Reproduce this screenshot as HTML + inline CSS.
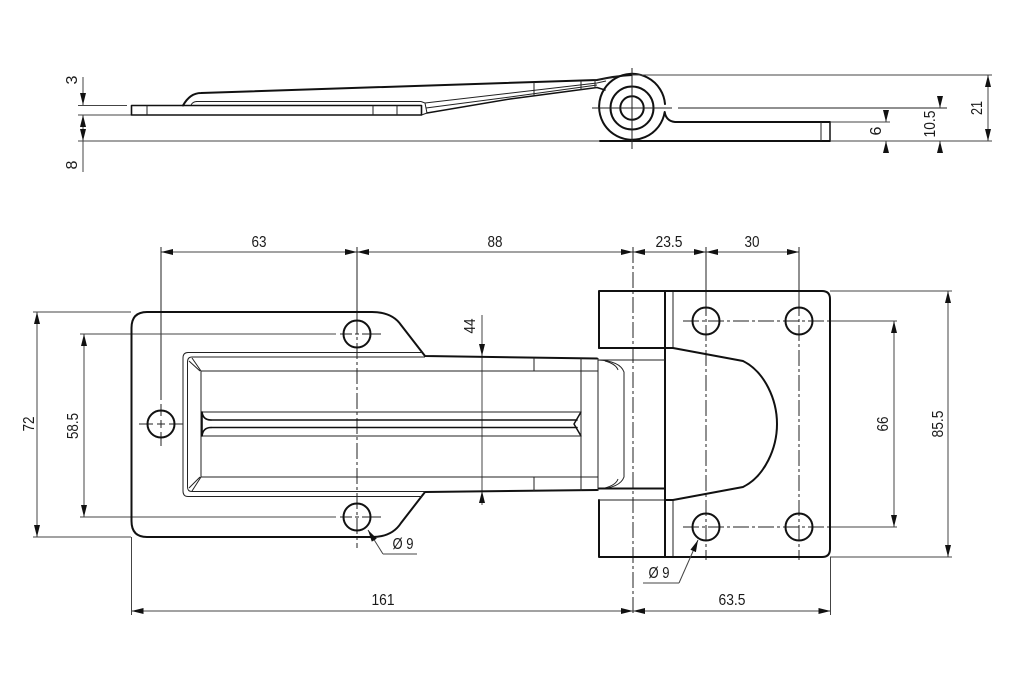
<!DOCTYPE html>
<html><head><meta charset="utf-8"><style>
html,body{margin:0;padding:0;background:#fff;}
svg{display:block;}
text{font-family:"Liberation Sans",sans-serif;font-size:16px;fill:#1a1a1a;}
.k{stroke:#111;stroke-width:2;fill:none;stroke-linejoin:round;stroke-linecap:round;}
.t{stroke:#222;stroke-width:1;fill:none;}
.g{stroke:#444;stroke-width:1;fill:none;}
.c{stroke:#222;stroke-width:1;fill:none;stroke-dasharray:16 3 3 3;}
.d{stroke:#444;stroke-width:1;fill:none;}
</style></head><body>
<svg width="1025" height="673" viewBox="0 0 1025 673" xmlns="http://www.w3.org/2000/svg">
<defs>
<marker id="a" viewBox="0 0 12 6" refX="12" refY="3" markerWidth="12" markerHeight="6" markerUnits="userSpaceOnUse" orient="auto-start-reverse">
<path d="M0,0 L12,3 L0,6 z" fill="#111"/>
</marker>
</defs>

<!-- ============ SIDE VIEW ============ -->
<line class="d" x1="83" y1="77" x2="83" y2="105" marker-end="url(#a)"/>
<line class="d" x1="83" y1="115" x2="83" y2="141" marker-start="url(#a)" marker-end="url(#a)"/>
<line class="d" x1="83" y1="141" x2="83" y2="172"/>
<line class="g" x1="78" y1="105.5" x2="127" y2="105.5"/>
<line class="g" x1="78" y1="115" x2="131" y2="115"/>
<line class="g" x1="78" y1="141" x2="600" y2="141"/>
<text transform="rotate(-90 77 80)" x="77" y="80" text-anchor="middle">3</text>
<text transform="rotate(-90 77 165)" x="77" y="165" text-anchor="middle">8</text>

<rect class="k" x="131.5" y="105.5" width="290" height="9.5" style="stroke-width:1.6"/>
<line class="t" x1="147" y1="105.5" x2="147" y2="115"/>
<line class="t" x1="373" y1="105.5" x2="373" y2="115"/>
<line class="t" x1="397" y1="105.5" x2="397" y2="115"/>
<line class="t" x1="196" y1="101.5" x2="421" y2="101.5"/>
<path class="t" d="M421,101.5 L425,103 L427,113 L421.5,115"/>
<path class="k" d="M183,105.5 Q190,93 201,93 L597,80 Q615,76 632,75"/>
<path class="t" d="M191,105 Q193,101 198,101.5"/>
<path class="t" d="M425,103 L597,83 L606,81"/>
<path class="k" style="stroke-width:1.5" d="M427,113 L510,99 L597,87.5 L605,90"/>
<path class="t" d="M426,108 L510,97 L597,85"/>
<line class="t" x1="534" y1="82" x2="534" y2="96"/>
<line class="t" x1="581" y1="80.5" x2="581" y2="90"/>
<line class="t" x1="595" y1="80" x2="595" y2="88"/>
<path class="t" d="M597,80 L620,76"/>
<path class="k" d="M830,122 L675,122 Q666,121 664.7,112 A33,33 0 1,1 665,104"/>
<circle class="k" cx="632" cy="108" r="21.5"/>
<circle class="k" cx="632" cy="108" r="11.7"/>
<line class="k" x1="600" y1="141" x2="830" y2="141"/>
<line class="t" x1="821" y1="122" x2="821" y2="141"/>
<line class="k" x1="830" y1="122" x2="830" y2="141" style="stroke-width:1.5"/>
<line class="t" x1="632" y1="68" x2="632" y2="149"/>
<line class="t" x1="592" y1="108" x2="672" y2="108"/>
<line class="t" x1="678" y1="108" x2="947" y2="108"/>
<line class="g" x1="632" y1="75" x2="992" y2="75"/>
<line class="g" x1="830" y1="122" x2="890" y2="122"/>
<line class="g" x1="830" y1="141" x2="992" y2="141"/>
<line class="d" x1="886" y1="110" x2="886" y2="122" marker-end="url(#a)"/>
<line class="d" x1="886" y1="153" x2="886" y2="141" marker-end="url(#a)"/>
<text transform="rotate(-90 881 131)" x="881" y="131" text-anchor="middle">6</text>
<line class="d" x1="940" y1="96" x2="940" y2="108" marker-end="url(#a)"/>
<line class="d" x1="940" y1="153" x2="940" y2="141" marker-end="url(#a)"/>
<text transform="rotate(-90 935 124)" x="935" y="124" text-anchor="middle" textLength="27" lengthAdjust="spacingAndGlyphs">10.5</text>
<line class="d" x1="988" y1="75" x2="988" y2="141" marker-start="url(#a)" marker-end="url(#a)"/>
<text transform="rotate(-90 982 108)" x="982" y="108" text-anchor="middle" textLength="14" lengthAdjust="spacingAndGlyphs">21</text>

<!-- ============ PLAN VIEW ============ -->
<line class="d" x1="161" y1="252" x2="357" y2="252" marker-start="url(#a)" marker-end="url(#a)"/>
<line class="d" x1="357" y1="252" x2="633" y2="252" marker-start="url(#a)" marker-end="url(#a)"/>
<line class="d" x1="633" y1="252" x2="706" y2="252" marker-start="url(#a)" marker-end="url(#a)"/>
<line class="d" x1="706" y1="252" x2="799" y2="252" marker-start="url(#a)" marker-end="url(#a)"/>
<text x="259" y="247" text-anchor="middle" textLength="15" lengthAdjust="spacingAndGlyphs">63</text>
<text x="495" y="247" text-anchor="middle" textLength="15" lengthAdjust="spacingAndGlyphs">88</text>
<text x="669" y="247" text-anchor="middle" textLength="27" lengthAdjust="spacingAndGlyphs">23.5</text>
<text x="752" y="247" text-anchor="middle" textLength="15" lengthAdjust="spacingAndGlyphs">30</text>

<line class="t" x1="161" y1="247" x2="161" y2="400"/>
<line class="t" x1="161" y1="404" x2="161" y2="416"/><line class="t" x1="161" y1="420" x2="161" y2="428"/><line class="t" x1="161" y1="432" x2="161" y2="446"/>
<line class="t" x1="139" y1="424" x2="153" y2="424"/><line class="t" x1="157" y1="424" x2="165" y2="424"/><line class="t" x1="169" y1="424" x2="183" y2="424"/>
<line class="t" x1="357" y1="247" x2="357" y2="318"/>
<line class="c" x1="357" y1="318" x2="357" y2="548"/>
<line class="c" x1="633" y1="247" x2="633" y2="615"/>
<line class="t" x1="706" y1="247" x2="706" y2="300"/>
<line class="c" x1="706" y1="300" x2="706" y2="560"/>
<line class="t" x1="799" y1="247" x2="799" y2="300"/>
<line class="c" x1="799" y1="300" x2="799" y2="560"/>
<line class="g" x1="80" y1="334" x2="336" y2="334"/>
<line class="t" x1="340" y1="334" x2="352" y2="334"/><line class="t" x1="355" y1="334" x2="359" y2="334"/><line class="t" x1="362" y1="334" x2="381" y2="334"/>
<line class="g" x1="80" y1="517" x2="336" y2="517"/>
<line class="t" x1="340" y1="517" x2="352" y2="517"/><line class="t" x1="355" y1="517" x2="359" y2="517"/><line class="t" x1="362" y1="517" x2="381" y2="517"/>
<line class="c" x1="683" y1="321" x2="830" y2="321"/>
<line class="g" x1="830" y1="321" x2="897" y2="321"/>
<line class="c" x1="683" y1="527" x2="830" y2="527"/>
<line class="g" x1="830" y1="527" x2="897" y2="527"/>
<line class="g" x1="33" y1="312" x2="131" y2="312"/>
<line class="g" x1="33" y1="537" x2="131" y2="537"/>
<line class="g" x1="830" y1="291" x2="952" y2="291"/>
<line class="g" x1="830" y1="557" x2="952" y2="557"/>
<line class="g" x1="131.5" y1="537" x2="131.5" y2="615"/>
<line class="g" x1="830.5" y1="557" x2="830.5" y2="615"/>

<line class="d" x1="37" y1="312" x2="37" y2="537" marker-start="url(#a)" marker-end="url(#a)"/>
<text transform="rotate(-90 34 424)" x="34" y="424" text-anchor="middle" textLength="15" lengthAdjust="spacingAndGlyphs">72</text>
<line class="d" x1="84" y1="334" x2="84" y2="517" marker-start="url(#a)" marker-end="url(#a)"/>
<text transform="rotate(-90 78 426)" x="78" y="426" text-anchor="middle" textLength="26" lengthAdjust="spacingAndGlyphs">58.5</text>

<line class="d" x1="894" y1="321" x2="894" y2="527" marker-start="url(#a)" marker-end="url(#a)"/>
<text transform="rotate(-90 888 424)" x="888" y="424" text-anchor="middle" textLength="15" lengthAdjust="spacingAndGlyphs">66</text>
<line class="d" x1="948" y1="291" x2="948" y2="557" marker-start="url(#a)" marker-end="url(#a)"/>
<text transform="rotate(-90 943 424)" x="943" y="424" text-anchor="middle" textLength="27" lengthAdjust="spacingAndGlyphs">85.5</text>

<line class="d" x1="131.5" y1="611" x2="633" y2="611" marker-start="url(#a)" marker-end="url(#a)"/>
<line class="d" x1="633" y1="611" x2="830.5" y2="611" marker-start="url(#a)" marker-end="url(#a)"/>
<text x="383" y="605" text-anchor="middle" textLength="23" lengthAdjust="spacingAndGlyphs">161</text>
<text x="732" y="605" text-anchor="middle" textLength="27" lengthAdjust="spacingAndGlyphs">63.5</text>

<line class="d" x1="482" y1="315" x2="482" y2="356" marker-end="url(#a)"/>
<line class="d" x1="482" y1="505" x2="482" y2="491" marker-end="url(#a)"/>
<line class="d" x1="482" y1="356" x2="482" y2="491"/>
<text transform="rotate(-90 475 326)" x="475" y="326" text-anchor="middle" textLength="15" lengthAdjust="spacingAndGlyphs">44</text>

<!-- left plate outline -->
<path class="k" d="M597,358.5 L425,356 L401,325 Q392,312 372,312 L147,312 Q131.5,312 131.5,328 L131.5,521 Q131.5,537 147,537 L372,537 Q392,537 401,523 L425,492 L597,490"/>
<!-- recess -->
<path class="t" d="M422,352.5 L188,352.5 Q183,352.5 183,358 L183,491 Q183,496.5 188,496.5 L422,496.5"/>
<path class="t" d="M425,357 L192,357 Q187.5,357 187.5,362 L187.5,487 Q187.5,491.5 192,491.5 L425,491.5"/>
<path class="t" d="M598,371 L201,371 L201,477 L598,477"/>
<path class="t" d="M192,358 L201,371 M189,361 L200,371 M192,491 L201,477 M189,488 L200,477"/>
<!-- rib -->
<line class="t" x1="201" y1="412" x2="581" y2="412"/>
<line class="k" x1="211" y1="420" x2="577" y2="420" style="stroke-width:1.6"/>
<line class="k" x1="211" y1="427.5" x2="577" y2="427.5" style="stroke-width:1.6"/>
<line class="t" x1="201" y1="436" x2="581" y2="436"/>
<path class="k" style="stroke-width:1.6" d="M211,420 Q203,420 202,412 L202,436 Q203,427.5 211,427.5"/>
<path class="k" style="stroke-width:1.5" d="M581,412 L574,424 L581,436"/>
<line class="t" x1="534" y1="357.5" x2="534" y2="371"/>
<line class="t" x1="534" y1="477" x2="534" y2="491"/>
<line class="t" x1="581" y1="358" x2="581" y2="491"/>
<line class="t" x1="598" y1="358" x2="598" y2="491"/>
<path class="t" d="M598,360 Q620,361 624,372 L624,477 Q620,488 598,489"/>
<path class="t" d="M605,361 Q616,364 618,370 M605,488 Q616,485 618,479"/>

<!-- knuckle -->
<path class="k" d="M599,348 L599,291 L665,291 L665,557 L599,557 L599,500"/>
<line class="k" x1="599" y1="348" x2="665" y2="348"/>
<line class="t" x1="599" y1="360" x2="665" y2="360"/>
<line class="k" x1="599" y1="488.5" x2="665" y2="488.5"/>
<line class="t" x1="599" y1="500" x2="665" y2="500"/>
<line class="t" x1="673" y1="291" x2="673" y2="348"/>
<line class="t" x1="673" y1="500" x2="673" y2="557"/>

<!-- right plate -->
<path class="k" d="M665,291 L822,291 Q830,291 830,299 L830,549 Q830,557 822,557 L665,557"/>
<path class="k" d="M665,348 L673,348 L743,361 C765,372 777,400 777,424 C777,448 765,476 743,487 L673,500 L665,500"/>

<!-- holes -->
<circle class="k" cx="161" cy="424" r="13.5"/>
<circle class="k" cx="357" cy="334" r="13.5"/>
<circle class="k" cx="357" cy="517" r="13.5"/>
<circle class="k" cx="706" cy="321" r="13.5"/>
<circle class="k" cx="799" cy="321" r="13.5"/>
<circle class="k" cx="706" cy="527" r="13.5"/>
<circle class="k" cx="799" cy="527" r="13.5"/>

<!-- Ø9 leaders -->
<line class="d" x1="383" y1="554" x2="368" y2="530" marker-end="url(#a)"/>
<line class="d" x1="383" y1="554" x2="417" y2="554"/>
<text x="403" y="549" text-anchor="middle" textLength="21" lengthAdjust="spacingAndGlyphs">Ø 9</text>
<line class="d" x1="679" y1="583" x2="698" y2="540" marker-end="url(#a)"/>
<line class="d" x1="679" y1="583" x2="643" y2="583"/>
<text x="659" y="578" text-anchor="middle" textLength="21" lengthAdjust="spacingAndGlyphs">Ø 9</text>
</svg>
</body></html>
